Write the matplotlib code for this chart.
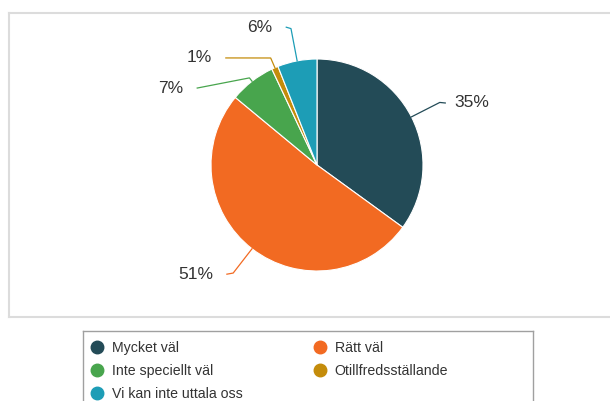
import numpy as np
import matplotlib
matplotlib.use('Agg')
import matplotlib.pyplot as plt
from matplotlib.lines import Line2D

plt.rcParams['font.family'] = ['Liberation Sans', 'DejaVu Sans']

categories = ['Mycket väl', 'Rätt väl', 'Inte speciellt väl',
              'Otillfredsställande', 'Vi kan inte uttala oss']
values = [35, 51, 7, 1, 6]
colors = ['#234b57', '#f26a22', '#48a54d', '#c48c0b', '#1d9db6']

# label layout: elbow radius, end of connector (data units), text side
elbow_r = [1.30, 1.29, 1.04, 1.10, 1.31]
conn_end = [(1.21, 0.585), (-0.85, -1.03), (-1.13, 0.726), (-0.86, 1.01), (-0.29, 1.30)]
side = ['left', 'right', 'right', 'right', 'right']
text_gap = [0.085, 0.13, 0.13, 0.13, 0.13]

W, H = 610, 401
fig = plt.figure(figsize=(W / 100, H / 100), dpi=100)

# pie area: center (317,165) px, radius 106 px
cx, cy, R = 317, 165, 106
x0, x1, y0, y1 = 9, 612, 13, 317
ax = fig.add_axes([x0 / W, 1 - y1 / H, (x1 - x0) / W, (y1 - y0) / H])

wedges, _ = ax.pie(values, colors=colors, startangle=90, counterclock=False,
                   radius=1.0, wedgeprops=dict(edgecolor='white', linewidth=0.8))
ax.set_aspect('auto')
ax.set_xlim((x0 - cx) / R, (x1 - cx) / R)
ax.set_ylim((cy - y1) / R, (cy - y0) / R)
ax.set_frame_on(True)
ax.set_xticks([])
ax.set_yticks([])
for s in ax.spines.values():
    s.set_color('#dcdcdc')
    s.set_linewidth(1.5)

for i, w in enumerate(wedges):
    mid = np.deg2rad((w.theta1 + w.theta2) / 2)
    ex, ey = np.cos(mid), np.sin(mid)
    bx, by = elbow_r[i] * ex, elbow_r[i] * ey
    lx, ly = conn_end[i]
    ax.plot([ex, bx, lx], [ey, by, ly], color=colors[i], lw=0.9, clip_on=False)
    gap = text_gap[i] if side[i] == 'left' else -text_gap[i]
    ax.text(lx + gap, ly, f'{values[i]}%', ha=side[i], va='center',
            fontsize=12.5, color='#333333')

# legend box
lx0, lx1, ly0, ly1 = 83, 533, 331, 410
lax = fig.add_axes([lx0 / W, 1 - ly1 / H, (lx1 - lx0) / W, (ly1 - ly0) / H])
lax.set_xticks([])
lax.set_yticks([])
for s in lax.spines.values():
    s.set_color('#a0a0a0')
    s.set_linewidth(1.0)

# legend is filled row by row in the reference
order = [0, 2, 4, 1, 3]
handles = [Line2D([], [], marker='o', ls='', color=colors[k], markersize=9) for k in order]
lax.legend(handles, [categories[k] for k in order], ncol=2, loc='upper left',
           bbox_to_anchor=(-3 / 450, 1.0), frameon=False, fontsize=10.2,
           handlelength=1.0, handletextpad=0.55, columnspacing=4.95,
           labelspacing=0.63, borderaxespad=0.3, labelcolor='#333333')

fig.savefig('out.png', dpi=100)
